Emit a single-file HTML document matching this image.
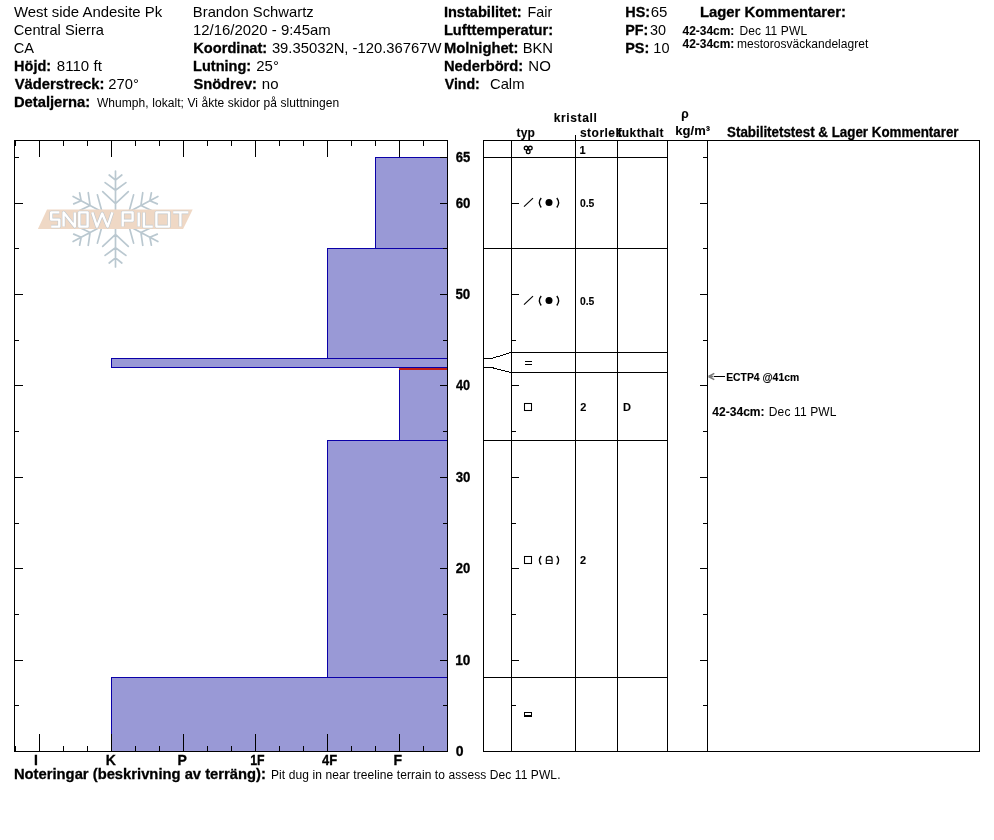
<!DOCTYPE html>
<html><head><meta charset="utf-8"><style>
html,body{margin:0;padding:0;background:#fff;width:994px;height:840px;overflow:hidden}
svg{position:absolute;left:0;top:0}
text{font-family:"Liberation Sans",sans-serif;fill:#000}
.b{stroke:#000;stroke-width:0.3px}
.bs{stroke:#000;stroke-width:0.12px}
</style></head><body>
<svg width="994" height="840" viewBox="0 0 994 840" style="will-change:transform">
<g shape-rendering="crispEdges">
<rect x="111" y="677" width="336" height="74" fill="#9999d6"/>
<rect x="327" y="440" width="120" height="237" fill="#9999d6"/>
<rect x="399" y="367" width="48" height="73" fill="#9999d6"/>
<rect x="111" y="358" width="336" height="9" fill="#9999d6"/>
<rect x="327" y="248" width="120" height="110" fill="#9999d6"/>
<rect x="375" y="157" width="72" height="91" fill="#9999d6"/>
<rect x="111" y="677" width="336" height="1" fill="#0a00a8"/>
<rect x="111" y="751" width="336" height="1" fill="#0a00a8"/>
<rect x="111" y="677" width="1" height="75" fill="#0a00a8"/>
<rect x="327" y="440" width="120" height="1" fill="#0a00a8"/>
<rect x="327" y="677" width="120" height="1" fill="#0a00a8"/>
<rect x="327" y="440" width="1" height="238" fill="#0a00a8"/>
<rect x="399" y="367" width="48" height="1" fill="#0a00a8"/>
<rect x="399" y="440" width="48" height="1" fill="#0a00a8"/>
<rect x="399" y="367" width="1" height="74" fill="#0a00a8"/>
<rect x="111" y="358" width="336" height="1" fill="#0a00a8"/>
<rect x="111" y="367" width="336" height="1" fill="#0a00a8"/>
<rect x="111" y="358" width="1" height="10" fill="#0a00a8"/>
<rect x="327" y="248" width="120" height="1" fill="#0a00a8"/>
<rect x="327" y="358" width="120" height="1" fill="#0a00a8"/>
<rect x="327" y="248" width="1" height="111" fill="#0a00a8"/>
<rect x="375" y="157" width="72" height="1" fill="#0a00a8"/>
<rect x="375" y="248" width="72" height="1" fill="#0a00a8"/>
<rect x="375" y="157" width="1" height="92" fill="#0a00a8"/>
<rect x="399" y="368" width="48" height="1" fill="#c01e14"/>
<rect x="399" y="369" width="48" height="1" fill="#c01e14"/>
<rect x="14" y="140" width="434" height="1" fill="#000"/>
<rect x="14" y="751" width="434" height="1" fill="#000"/>
<rect x="14" y="140" width="1" height="612" fill="#000"/>
<rect x="447" y="140" width="1" height="612" fill="#000"/>
<rect x="15" y="141" width="1" height="5" fill="#000"/>
<rect x="15" y="746" width="1" height="5" fill="#000"/>
<rect x="39" y="141" width="1" height="16" fill="#000"/>
<rect x="39" y="734" width="1" height="17" fill="#000"/>
<rect x="63" y="141" width="1" height="5" fill="#000"/>
<rect x="63" y="746" width="1" height="5" fill="#000"/>
<rect x="87" y="141" width="1" height="5" fill="#000"/>
<rect x="87" y="746" width="1" height="5" fill="#000"/>
<rect x="111" y="141" width="1" height="16" fill="#000"/>
<rect x="111" y="734" width="1" height="17" fill="#000"/>
<rect x="135" y="141" width="1" height="5" fill="#000"/>
<rect x="135" y="746" width="1" height="5" fill="#000"/>
<rect x="159" y="141" width="1" height="5" fill="#000"/>
<rect x="159" y="746" width="1" height="5" fill="#000"/>
<rect x="183" y="141" width="1" height="16" fill="#000"/>
<rect x="183" y="734" width="1" height="17" fill="#000"/>
<rect x="207" y="141" width="1" height="5" fill="#000"/>
<rect x="207" y="746" width="1" height="5" fill="#000"/>
<rect x="231" y="141" width="1" height="5" fill="#000"/>
<rect x="231" y="746" width="1" height="5" fill="#000"/>
<rect x="255" y="141" width="1" height="16" fill="#000"/>
<rect x="255" y="734" width="1" height="17" fill="#000"/>
<rect x="279" y="141" width="1" height="5" fill="#000"/>
<rect x="279" y="746" width="1" height="5" fill="#000"/>
<rect x="303" y="141" width="1" height="5" fill="#000"/>
<rect x="303" y="746" width="1" height="5" fill="#000"/>
<rect x="327" y="141" width="1" height="16" fill="#000"/>
<rect x="327" y="734" width="1" height="17" fill="#000"/>
<rect x="351" y="141" width="1" height="5" fill="#000"/>
<rect x="351" y="746" width="1" height="5" fill="#000"/>
<rect x="375" y="141" width="1" height="5" fill="#000"/>
<rect x="375" y="746" width="1" height="5" fill="#000"/>
<rect x="399" y="141" width="1" height="16" fill="#000"/>
<rect x="399" y="734" width="1" height="17" fill="#000"/>
<rect x="423" y="141" width="1" height="5" fill="#000"/>
<rect x="423" y="746" width="1" height="5" fill="#000"/>
<rect x="15" y="705" width="4" height="1" fill="#000"/>
<rect x="443" y="705" width="4" height="1" fill="#000"/>
<rect x="15" y="660" width="8" height="1" fill="#000"/>
<rect x="440" y="660" width="7" height="1" fill="#000"/>
<rect x="15" y="614" width="4" height="1" fill="#000"/>
<rect x="443" y="614" width="4" height="1" fill="#000"/>
<rect x="15" y="568" width="8" height="1" fill="#000"/>
<rect x="440" y="568" width="7" height="1" fill="#000"/>
<rect x="15" y="523" width="4" height="1" fill="#000"/>
<rect x="443" y="523" width="4" height="1" fill="#000"/>
<rect x="15" y="477" width="8" height="1" fill="#000"/>
<rect x="440" y="477" width="7" height="1" fill="#000"/>
<rect x="15" y="431" width="4" height="1" fill="#000"/>
<rect x="443" y="431" width="4" height="1" fill="#000"/>
<rect x="15" y="385" width="8" height="1" fill="#000"/>
<rect x="440" y="385" width="7" height="1" fill="#000"/>
<rect x="15" y="340" width="4" height="1" fill="#000"/>
<rect x="443" y="340" width="4" height="1" fill="#000"/>
<rect x="15" y="294" width="8" height="1" fill="#000"/>
<rect x="440" y="294" width="7" height="1" fill="#000"/>
<rect x="15" y="248" width="4" height="1" fill="#000"/>
<rect x="443" y="248" width="4" height="1" fill="#000"/>
<rect x="15" y="203" width="8" height="1" fill="#000"/>
<rect x="440" y="203" width="7" height="1" fill="#000"/>
<rect x="15" y="157" width="4" height="1" fill="#000"/>
<rect x="440" y="157" width="7" height="1" fill="#000"/>
<rect x="483" y="140" width="497" height="1" fill="#000"/>
<rect x="483" y="751" width="497" height="1" fill="#000"/>
<rect x="483" y="140" width="1" height="612" fill="#000"/>
<rect x="979" y="140" width="1" height="612" fill="#000"/>
<rect x="511" y="140" width="1" height="612" fill="#000"/>
<rect x="575" y="140" width="1" height="612" fill="#000"/>
<rect x="617" y="140" width="1" height="612" fill="#000"/>
<rect x="667" y="140" width="1" height="612" fill="#000"/>
<rect x="707" y="140" width="1" height="612" fill="#000"/>
<rect x="575" y="135" width="1" height="5" fill="#000"/>
<rect x="483" y="157" width="185" height="1" fill="#000"/>
<rect x="483" y="248" width="185" height="1" fill="#000"/>
<rect x="483" y="440" width="185" height="1" fill="#000"/>
<rect x="483" y="677" width="185" height="1" fill="#000"/>
<rect x="511" y="352" width="157" height="1" fill="#000"/>
<rect x="511" y="372" width="157" height="1" fill="#000"/>
<rect x="512" y="705" width="4" height="1" fill="#000"/>
<rect x="703" y="705" width="4" height="1" fill="#000"/>
<rect x="512" y="660" width="7" height="1" fill="#000"/>
<rect x="700" y="660" width="7" height="1" fill="#000"/>
<rect x="512" y="614" width="4" height="1" fill="#000"/>
<rect x="703" y="614" width="4" height="1" fill="#000"/>
<rect x="512" y="568" width="7" height="1" fill="#000"/>
<rect x="700" y="568" width="7" height="1" fill="#000"/>
<rect x="512" y="523" width="4" height="1" fill="#000"/>
<rect x="703" y="523" width="4" height="1" fill="#000"/>
<rect x="512" y="477" width="7" height="1" fill="#000"/>
<rect x="700" y="477" width="7" height="1" fill="#000"/>
<rect x="512" y="431" width="4" height="1" fill="#000"/>
<rect x="703" y="431" width="4" height="1" fill="#000"/>
<rect x="512" y="385" width="7" height="1" fill="#000"/>
<rect x="700" y="385" width="7" height="1" fill="#000"/>
<rect x="512" y="340" width="4" height="1" fill="#000"/>
<rect x="703" y="340" width="4" height="1" fill="#000"/>
<rect x="512" y="294" width="7" height="1" fill="#000"/>
<rect x="700" y="294" width="7" height="1" fill="#000"/>
<rect x="512" y="248" width="4" height="1" fill="#000"/>
<rect x="703" y="248" width="4" height="1" fill="#000"/>
<rect x="512" y="203" width="7" height="1" fill="#000"/>
<rect x="700" y="203" width="7" height="1" fill="#000"/>
<rect x="512" y="157" width="4" height="1" fill="#000"/>
<rect x="703" y="157" width="4" height="1" fill="#000"/>
<rect x="483" y="358" width="9" height="1" fill="#000"/>
<rect x="483" y="367" width="9" height="1" fill="#000"/>
<path d="M491.5 358.5 L511 352.5 M491.5 367.5 L511 372.5" stroke="#000" stroke-width="1" fill="none" shape-rendering="crispEdges"/>
<rect x="714" y="376" width="11" height="1" fill="#000"/>
<path d="M708.5 376.5 L713.5 376.5 M708.5 376.5 L714.3 373.3 M708.5 376.5 L714.3 379.7" stroke="#7a7a7a" stroke-width="1.5" fill="none" shape-rendering="geometricPrecision"/>
</g>
<g><g transform="translate(115.5 219) rotate(0)"><path d="M0 0 L0 -48 M0 -38.9 L-6.3 -44 M0 -38.9 L6.3 -44 M0 -28.8 L-10.4 -36.4 M0 -28.8 L10.4 -36.4 M0 -15.3 L-12.8 -27.3 M0 -15.3 L12.8 -27.3" stroke="#bac8d0" stroke-width="1.7" fill="none" stroke-linecap="round"/></g>
<g transform="translate(115.5 219) rotate(62)"><path d="M0 0 L0 -48 M0 -38.9 L-6.3 -44 M0 -38.9 L6.3 -44 M0 -28.8 L-10.4 -36.4 M0 -28.8 L10.4 -36.4 M0 -15.3 L-12.8 -27.3 M0 -15.3 L12.8 -27.3" stroke="#bac8d0" stroke-width="1.7" fill="none" stroke-linecap="round"/></g>
<g transform="translate(115.5 219) rotate(118)"><path d="M0 0 L0 -48 M0 -38.9 L-6.3 -44 M0 -38.9 L6.3 -44 M0 -28.8 L-10.4 -36.4 M0 -28.8 L10.4 -36.4 M0 -15.3 L-12.8 -27.3 M0 -15.3 L12.8 -27.3" stroke="#bac8d0" stroke-width="1.7" fill="none" stroke-linecap="round"/></g>
<g transform="translate(115.5 219) rotate(180)"><path d="M0 0 L0 -48 M0 -38.9 L-6.3 -44 M0 -38.9 L6.3 -44 M0 -28.8 L-10.4 -36.4 M0 -28.8 L10.4 -36.4 M0 -15.3 L-12.8 -27.3 M0 -15.3 L12.8 -27.3" stroke="#bac8d0" stroke-width="1.7" fill="none" stroke-linecap="round"/></g>
<g transform="translate(115.5 219) rotate(242)"><path d="M0 0 L0 -48 M0 -38.9 L-6.3 -44 M0 -38.9 L6.3 -44 M0 -28.8 L-10.4 -36.4 M0 -28.8 L10.4 -36.4 M0 -15.3 L-12.8 -27.3 M0 -15.3 L12.8 -27.3" stroke="#bac8d0" stroke-width="1.7" fill="none" stroke-linecap="round"/></g>
<g transform="translate(115.5 219) rotate(298)"><path d="M0 0 L0 -48 M0 -38.9 L-6.3 -44 M0 -38.9 L6.3 -44 M0 -28.8 L-10.4 -36.4 M0 -28.8 L10.4 -36.4 M0 -15.3 L-12.8 -27.3 M0 -15.3 L12.8 -27.3" stroke="#bac8d0" stroke-width="1.7" fill="none" stroke-linecap="round"/></g>
<polygon points="47,209.6 192.7,209.6 183.1,228.9 37.9,228.9" style="fill:#efd8c5"/>
<path d="M59.3 212.4 H51.2 V219.6 H59.3 V226.6 H51.2 M63.6 226.6 V212.4 L74.8 226.6 V212.4 M79.3 212.4 H87.6 V226.6 H79.3 Z M92.3 212.4 L97 226.6 L102.2 213.5 L107.6 226.6 L112.4 212.4 M122.7 226.6 V212.4 H132.6 V220.6 H122.7 M138.7 212.4 V226.6 M143.9 212.4 V226.6 H152.8 M156.4 212.4 H169 V226.6 H156.4 Z M173.2 212.4 H188.3 M180.4 212.4 V226.6" style="fill:none;stroke:#bec6cc;stroke-width:3.5" stroke-linejoin="round"/>
<path d="M59.3 212.4 H51.2 V219.6 H59.3 V226.6 H51.2 M63.6 226.6 V212.4 L74.8 226.6 V212.4 M79.3 212.4 H87.6 V226.6 H79.3 Z M92.3 212.4 L97 226.6 L102.2 213.5 L107.6 226.6 L112.4 212.4 M122.7 226.6 V212.4 H132.6 V220.6 H122.7 M138.7 212.4 V226.6 M143.9 212.4 V226.6 H152.8 M156.4 212.4 H169 V226.6 H156.4 Z M173.2 212.4 H188.3 M180.4 212.4 V226.6" style="fill:none;stroke:#ffffff;stroke-width:2.4" stroke-linejoin="round"/></g>
<g><g fill="none" stroke="#000" stroke-width="1.3"><circle cx="526.1" cy="148.1" r="1.85"/><circle cx="530.3" cy="148.1" r="1.85"/><circle cx="528.2" cy="151.7" r="1.85"/></g>
<g stroke="#000" stroke-width="1.1" fill="none"><path d="M524 206.6 L533 198.1"/></g><g stroke="#000" stroke-width="1.35" fill="none"><path d="M541.2 198.0 Q537.6 202.6 541.2 207.5"/><path d="M556.8 198.0 Q560.4 202.6 556.8 207.5"/></g><circle cx="549" cy="202.6" r="3.5" fill="#000"/>
<g stroke="#000" stroke-width="1.1" fill="none"><path d="M524 304.6 L533 296.1"/></g><g stroke="#000" stroke-width="1.35" fill="none"><path d="M541.2 296.0 Q537.6 300.6 541.2 305.5"/><path d="M556.8 296.0 Q560.4 300.6 556.8 305.5"/></g><circle cx="549" cy="300.6" r="3.5" fill="#000"/>
<rect x="525" y="361" width="7" height="1" fill="#000"/><rect x="525" y="364" width="7" height="1" fill="#000"/>
<rect x="524.5" y="403.5" width="7" height="7" fill="none" stroke="#000" stroke-width="1.05"/>
<rect x="524.5" y="556.5" width="7" height="7" fill="none" stroke="#000" stroke-width="1.05"/>
<g stroke="#000" stroke-width="1.1" fill="none"><path d="M541.2 556 Q537.6 560.3 541.2 564.6" stroke-width="1.35"/><path d="M556.8 556 Q560.4 560.3 556.8 564.6" stroke-width="1.35"/><path d="M546.3 563.5 L546.3 559 Q546.3 556.4 549.2 556.4 Q552.1 556.4 552.1 559 L552.1 563.5 Z M546.3 560.2 L552.1 560.2"/></g>
<rect x="524.5" y="712.5" width="7" height="3.5" fill="none" stroke="#000" stroke-width="1"/><rect x="524" y="715" width="8" height="2" fill="#000"/></g>
<g><text x="13.88" y="17" font-size="15" textLength="148.31" lengthAdjust="spacingAndGlyphs">West side Andesite Pk</text>
<text x="13.76" y="35" font-size="15" textLength="90.17" lengthAdjust="spacingAndGlyphs">Central Sierra</text>
<text x="13.76" y="53" font-size="15" textLength="20.33" lengthAdjust="spacingAndGlyphs">CA</text>
<text x="14.12" y="71" font-size="15" font-weight="bold" class="b" textLength="36.93" lengthAdjust="spacingAndGlyphs">Höjd:</text>
<text x="56.82" y="71" font-size="15" textLength="44.98" lengthAdjust="spacing">8110 ft</text>
<text x="14.72" y="89" font-size="15" font-weight="bold" class="b" textLength="89.59" lengthAdjust="spacingAndGlyphs">Väderstreck:</text>
<text x="108.31" y="89" font-size="15" textLength="30.52" lengthAdjust="spacingAndGlyphs">270°</text>
<text x="13.91" y="107" font-size="15" font-weight="bold" class="b" textLength="76.26" lengthAdjust="spacingAndGlyphs">Detaljerna:</text>
<text x="96.90" y="107" font-size="12" textLength="242.33" lengthAdjust="spacing">Whumph, lokalt;  Vi åkte skidor på sluttningen</text>
<text x="192.87" y="17" font-size="15" textLength="120.82" lengthAdjust="spacingAndGlyphs">Brandon Schwartz</text>
<text x="192.93" y="35" font-size="15" textLength="137.79" lengthAdjust="spacingAndGlyphs">12/16/2020 - 9:45am</text>
<text x="193.32" y="53" font-size="15" font-weight="bold" class="b" textLength="73.88" lengthAdjust="spacingAndGlyphs">Koordinat:</text>
<text x="271.88" y="53" font-size="15" textLength="169.62" lengthAdjust="spacingAndGlyphs">39.35032N, -120.36767W</text>
<text x="193.12" y="71" font-size="15" font-weight="bold" class="b" textLength="58.04" lengthAdjust="spacingAndGlyphs">Lutning:</text>
<text x="256.31" y="71" font-size="15" textLength="22.61" lengthAdjust="spacingAndGlyphs">25°</text>
<text x="193.38" y="89" font-size="15" font-weight="bold" class="b" textLength="63.60" lengthAdjust="spacingAndGlyphs">Snödrev:</text>
<text x="261.78" y="89" font-size="15" textLength="16.87" lengthAdjust="spacing">no</text>
<text x="443.90" y="17" font-size="15" font-weight="bold" class="b" textLength="77.80" lengthAdjust="spacingAndGlyphs">Instabilitet:</text>
<text x="527.50" y="17" font-size="15" textLength="24.66" lengthAdjust="spacingAndGlyphs">Fair</text>
<text x="443.91" y="35" font-size="15" font-weight="bold" class="b" textLength="109.17" lengthAdjust="spacingAndGlyphs">Lufttemperatur:</text>
<text x="443.91" y="53" font-size="15" font-weight="bold" class="b" textLength="74.53" lengthAdjust="spacingAndGlyphs">Molnighet:</text>
<text x="522.67" y="53" font-size="15" textLength="30.39" lengthAdjust="spacingAndGlyphs">BKN</text>
<text x="443.91" y="71" font-size="15" font-weight="bold" class="b" textLength="79.35" lengthAdjust="spacingAndGlyphs">Nederbörd:</text>
<text x="528.26" y="71" font-size="15" textLength="22.66" lengthAdjust="spacing">NO</text>
<text x="444.73" y="89" font-size="15" font-weight="bold" class="b" textLength="35.13" lengthAdjust="spacingAndGlyphs">Vind:</text>
<text x="489.95" y="89" font-size="15" textLength="34.55" lengthAdjust="spacingAndGlyphs">Calm</text>
<text x="625.22" y="17" font-size="15" font-weight="bold" class="b" textLength="24.88" lengthAdjust="spacingAndGlyphs">HS:</text>
<text x="650.65" y="17" font-size="15" textLength="16.70" lengthAdjust="spacing">65</text>
<text x="625.23" y="35" font-size="15" font-weight="bold" class="b" textLength="23.01" lengthAdjust="spacingAndGlyphs">PF:</text>
<text x="649.99" y="35" font-size="15" textLength="16.05" lengthAdjust="spacingAndGlyphs">30</text>
<text x="625.22" y="53" font-size="15" font-weight="bold" class="b" textLength="24.08" lengthAdjust="spacingAndGlyphs">PS:</text>
<text x="653.34" y="53" font-size="15" textLength="16.12" lengthAdjust="spacingAndGlyphs">10</text>
<text x="700.01" y="17" font-size="15" font-weight="bold" class="b" textLength="145.89" lengthAdjust="spacingAndGlyphs">Lager Kommentarer:</text>
<text x="682.60" y="35" font-size="13" font-weight="bold" class="bs" textLength="51.75" lengthAdjust="spacingAndGlyphs">42-34cm:</text>
<text x="739.51" y="35" font-size="12" textLength="67.60" lengthAdjust="spacing">Dec 11 PWL</text>
<text x="682.60" y="48" font-size="13" font-weight="bold" class="bs" textLength="51.75" lengthAdjust="spacingAndGlyphs">42-34cm:</text>
<text x="737.02" y="48" font-size="12" textLength="131.23" lengthAdjust="spacing">mestorosväckandelagret</text>
<text x="553.71" y="122" font-size="12" font-weight="bold" class="bs" textLength="43.08" lengthAdjust="spacing">kristall</text>
<text x="516.52" y="137" font-size="12" font-weight="bold" class="bs" textLength="18.38" lengthAdjust="spacing">typ</text>
<text x="579.88" y="137" font-size="12" font-weight="bold" class="bs" textLength="42.35" lengthAdjust="spacing">storlek</text>
<text x="617.48" y="137" font-size="12" font-weight="bold" class="bs" textLength="46.05" lengthAdjust="spacing">fukthalt</text>
<text x="681.25" y="118" font-size="12" font-weight="bold" class="bs">ρ</text>
<text x="675.36" y="135" font-size="13" font-weight="bold" class="bs" textLength="34.71" lengthAdjust="spacing">kg/m³</text>
<text x="727.06" y="137" font-size="14" font-weight="bold" class="b" textLength="231.51" lengthAdjust="spacingAndGlyphs">Stabilitetstest &amp; Lager Kommentarer</text>
<text x="455.66" y="162" font-size="14" font-weight="bold" class="b" textLength="14.53" lengthAdjust="spacingAndGlyphs">65</text>
<text x="455.66" y="208" font-size="14" font-weight="bold" class="b" textLength="14.72" lengthAdjust="spacingAndGlyphs">60</text>
<text x="455.46" y="299" font-size="14" font-weight="bold" class="b" textLength="14.79" lengthAdjust="spacingAndGlyphs">50</text>
<text x="455.99" y="390" font-size="14" font-weight="bold" class="b" textLength="14.11" lengthAdjust="spacingAndGlyphs">40</text>
<text x="455.64" y="482" font-size="14" font-weight="bold" class="b" textLength="14.74" lengthAdjust="spacingAndGlyphs">30</text>
<text x="455.76" y="573" font-size="14" font-weight="bold" class="b" textLength="14.52" lengthAdjust="spacingAndGlyphs">20</text>
<text x="455.21" y="665" font-size="14" font-weight="bold" class="b" textLength="15.10" lengthAdjust="spacingAndGlyphs">10</text>
<text x="455.71" y="756" font-size="14" font-weight="bold" class="b">0</text>
<text x="579.39" y="154" font-size="11" font-weight="bold" class="bs">1</text>
<text x="579.88" y="207" font-size="11" font-weight="bold" class="bs" textLength="14.41" lengthAdjust="spacingAndGlyphs">0.5</text>
<text x="579.88" y="305" font-size="11" font-weight="bold" class="bs" textLength="14.41" lengthAdjust="spacingAndGlyphs">0.5</text>
<text x="580.13" y="411" font-size="11" font-weight="bold" class="bs">2</text>
<text x="622.92" y="411" font-size="11" font-weight="bold" class="bs">D</text>
<text x="579.93" y="564" font-size="11" font-weight="bold" class="bs">2</text>
<text x="726.16" y="381" font-size="11" font-weight="bold" class="bs" textLength="73.00" lengthAdjust="spacingAndGlyphs">ECTP4 @41cm</text>
<text x="712.30" y="415.5" font-size="13" font-weight="bold" class="bs" textLength="52.32" lengthAdjust="spacingAndGlyphs">42-34cm:</text>
<text x="768.81" y="415.5" font-size="12" textLength="67.61" lengthAdjust="spacing">Dec 11 PWL</text>
<text x="34.03" y="765" font-size="14" font-weight="bold" class="b">I</text>
<text x="105.76" y="765" font-size="14" font-weight="bold" class="b">K</text>
<text x="177.42" y="765" font-size="14" font-weight="bold" class="b">P</text>
<text x="250.18" y="765" font-size="14" font-weight="bold" class="b" textLength="14.36" lengthAdjust="spacingAndGlyphs">1F</text>
<text x="321.99" y="765" font-size="14" font-weight="bold" class="b" textLength="15.14" lengthAdjust="spacingAndGlyphs">4F</text>
<text x="393.51" y="765" font-size="14" font-weight="bold" class="b">F</text>
<text x="13.91" y="779" font-size="15" font-weight="bold" class="b" textLength="252.03" lengthAdjust="spacingAndGlyphs">Noteringar (beskrivning av terräng):</text>
<text x="271.01" y="779" font-size="12" textLength="289.47" lengthAdjust="spacing">Pit dug in near treeline terrain to assess Dec 11 PWL.</text></g>
</svg>
</body></html>
